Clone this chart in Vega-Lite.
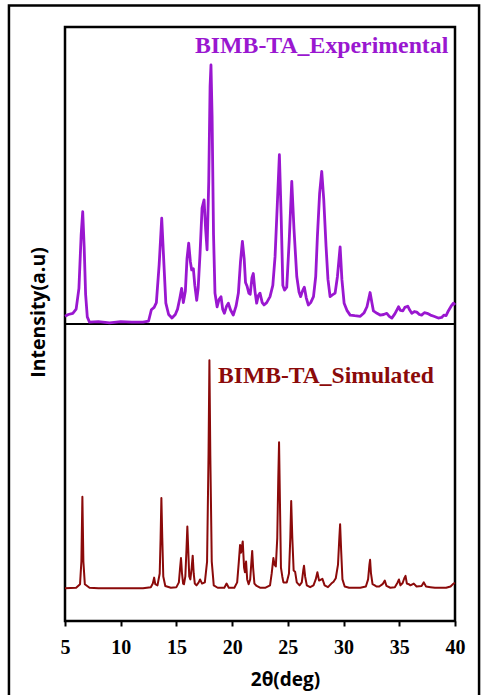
{
  "$schema": "https://vega.github.io/schema/vega-lite/v6.json",
  "width": 390,
  "height": 594,
  "autosize": {"type": "none"},
  "padding": {"left": 65, "top": 27, "right": 30, "bottom": 74},
  "background": "white",
  "config": {
    "view": {"stroke": "black", "strokeWidth": 2.5},
    "axis": {"grid": false}
  },
  "datasets": {
    "experimental": [
      {"t": 5.0, "y": 51.3}, {"t": 5.3, "y": 51.6}, {"t": 5.7, "y": 51.8}, {"t": 6.0, "y": 52.5},
      {"t": 6.25, "y": 56}, {"t": 6.45, "y": 65}, {"t": 6.59, "y": 68.9}, {"t": 6.72, "y": 63},
      {"t": 6.85, "y": 55}, {"t": 7.0, "y": 51.2}, {"t": 7.2, "y": 50.3}, {"t": 8.0, "y": 50.4},
      {"t": 9.0, "y": 50.2}, {"t": 10.0, "y": 50.4}, {"t": 11.0, "y": 50.3}, {"t": 12.0, "y": 50.3},
      {"t": 12.5, "y": 50.5}, {"t": 12.75, "y": 52.4}, {"t": 13.0, "y": 52.8}, {"t": 13.2, "y": 53.6},
      {"t": 13.45, "y": 60}, {"t": 13.68, "y": 67.8}, {"t": 13.88, "y": 60}, {"t": 14.05, "y": 53.5},
      {"t": 14.3, "y": 51.6}, {"t": 14.6, "y": 51.0}, {"t": 14.9, "y": 51.6}, {"t": 15.1, "y": 52.5},
      {"t": 15.3, "y": 54.3}, {"t": 15.47, "y": 56.0}, {"t": 15.62, "y": 53.6}, {"t": 15.8, "y": 55.5},
      {"t": 15.95, "y": 61}, {"t": 16.1, "y": 63.6}, {"t": 16.25, "y": 60.5}, {"t": 16.37, "y": 59.1},
      {"t": 16.52, "y": 59.3}, {"t": 16.65, "y": 56.5}, {"t": 16.82, "y": 54.0}, {"t": 16.95, "y": 56},
      {"t": 17.12, "y": 61.9}, {"t": 17.3, "y": 69.5}, {"t": 17.48, "y": 70.9}, {"t": 17.62, "y": 66},
      {"t": 17.75, "y": 62.5}, {"t": 17.9, "y": 74}, {"t": 18.02, "y": 90}, {"t": 18.1, "y": 93.6},
      {"t": 18.2, "y": 85}, {"t": 18.33, "y": 65}, {"t": 18.46, "y": 55.2}, {"t": 18.65, "y": 52.9},
      {"t": 18.82, "y": 54.1}, {"t": 19.0, "y": 54.6}, {"t": 19.15, "y": 52.5}, {"t": 19.3, "y": 51.8},
      {"t": 19.5, "y": 53}, {"t": 19.66, "y": 53.5}, {"t": 19.85, "y": 52.4}, {"t": 20.1, "y": 51.5},
      {"t": 20.35, "y": 53}, {"t": 20.56, "y": 55.2}, {"t": 20.75, "y": 60.5}, {"t": 20.92, "y": 63.9},
      {"t": 21.08, "y": 61}, {"t": 21.2, "y": 57}, {"t": 21.35, "y": 56.3}, {"t": 21.5, "y": 55.2},
      {"t": 21.62, "y": 55.0}, {"t": 21.78, "y": 57.8}, {"t": 21.9, "y": 58.5}, {"t": 22.05, "y": 55.5},
      {"t": 22.2, "y": 53.5}, {"t": 22.35, "y": 54.8}, {"t": 22.5, "y": 55.2}, {"t": 22.7, "y": 53.6},
      {"t": 22.86, "y": 53.2}, {"t": 23.1, "y": 53.6}, {"t": 23.4, "y": 54.6}, {"t": 23.65, "y": 56.5},
      {"t": 23.85, "y": 61.3}, {"t": 24.05, "y": 70}, {"t": 24.24, "y": 78.5}, {"t": 24.4, "y": 68},
      {"t": 24.55, "y": 56.5}, {"t": 24.7, "y": 55.7}, {"t": 24.9, "y": 56.2}, {"t": 25.12, "y": 64},
      {"t": 25.35, "y": 74.0}, {"t": 25.55, "y": 66}, {"t": 25.8, "y": 58.0}, {"t": 26.0, "y": 55.4},
      {"t": 26.15, "y": 54.6}, {"t": 26.3, "y": 55.5}, {"t": 26.48, "y": 56.2}, {"t": 26.65, "y": 54.4},
      {"t": 26.84, "y": 53.2}, {"t": 27.05, "y": 53.6}, {"t": 27.3, "y": 54.6}, {"t": 27.5, "y": 58},
      {"t": 27.65, "y": 64.7}, {"t": 27.85, "y": 72}, {"t": 28.04, "y": 75.7}, {"t": 28.22, "y": 71},
      {"t": 28.43, "y": 63.0}, {"t": 28.6, "y": 57.5}, {"t": 28.79, "y": 54.6}, {"t": 29.0, "y": 54.9},
      {"t": 29.24, "y": 55.2}, {"t": 29.45, "y": 58}, {"t": 29.69, "y": 63.0}, {"t": 29.85, "y": 57.5},
      {"t": 30.05, "y": 53.5}, {"t": 30.3, "y": 52.3}, {"t": 30.59, "y": 51.5}, {"t": 31.0, "y": 51.4},
      {"t": 31.5, "y": 51.3}, {"t": 31.85, "y": 51.9}, {"t": 32.1, "y": 52.9}, {"t": 32.38, "y": 55.3},
      {"t": 32.55, "y": 53.5}, {"t": 32.68, "y": 52.2}, {"t": 33.0, "y": 51.8}, {"t": 33.28, "y": 51.5},
      {"t": 33.6, "y": 51.6}, {"t": 33.88, "y": 51.8}, {"t": 34.1, "y": 51.3}, {"t": 34.33, "y": 51.0},
      {"t": 34.6, "y": 51.7}, {"t": 34.93, "y": 52.9}, {"t": 35.1, "y": 52.3}, {"t": 35.32, "y": 52.2},
      {"t": 35.5, "y": 52.8}, {"t": 35.76, "y": 53.0}, {"t": 35.95, "y": 52.3}, {"t": 36.12, "y": 51.8},
      {"t": 36.35, "y": 52.1}, {"t": 36.57, "y": 52.0}, {"t": 36.8, "y": 51.6}, {"t": 37.0, "y": 51.5},
      {"t": 37.25, "y": 51.9}, {"t": 37.5, "y": 51.8}, {"t": 37.8, "y": 51.5}, {"t": 38.1, "y": 51.3},
      {"t": 38.5, "y": 51.0}, {"t": 38.8, "y": 51.1}, {"t": 39.0, "y": 51.5}, {"t": 39.2, "y": 51.4},
      {"t": 39.4, "y": 52.2}, {"t": 39.65, "y": 53.0}, {"t": 39.86, "y": 53.5}, {"t": 40.0, "y": 53.2}
    ],
    "simulated": [
      {"t": 5.0, "y": 5.5}, {"t": 6.0, "y": 5.6}, {"t": 6.35, "y": 6.2}, {"t": 6.47, "y": 10},
      {"t": 6.56, "y": 20.9}, {"t": 6.65, "y": 10}, {"t": 6.78, "y": 6.2}, {"t": 7.2, "y": 5.6},
      {"t": 8.0, "y": 5.5}, {"t": 10.0, "y": 5.5}, {"t": 12.0, "y": 5.5}, {"t": 12.7, "y": 5.7},
      {"t": 12.88, "y": 6.3}, {"t": 13.0, "y": 7.3}, {"t": 13.1, "y": 6.2}, {"t": 13.3, "y": 6.0},
      {"t": 13.5, "y": 8}, {"t": 13.58, "y": 14}, {"t": 13.65, "y": 20.7}, {"t": 13.73, "y": 14},
      {"t": 13.82, "y": 7.5}, {"t": 14.0, "y": 5.9}, {"t": 14.5, "y": 5.6}, {"t": 15.0, "y": 5.7},
      {"t": 15.22, "y": 6.5}, {"t": 15.33, "y": 9}, {"t": 15.41, "y": 10.6}, {"t": 15.5, "y": 8},
      {"t": 15.6, "y": 6.3}, {"t": 15.68, "y": 6.2}, {"t": 15.8, "y": 7.5}, {"t": 15.9, "y": 12},
      {"t": 15.98, "y": 15.9}, {"t": 16.06, "y": 12}, {"t": 16.15, "y": 7.5}, {"t": 16.25, "y": 7.0},
      {"t": 16.37, "y": 9}, {"t": 16.46, "y": 11.0}, {"t": 16.55, "y": 8}, {"t": 16.65, "y": 6.3},
      {"t": 16.8, "y": 6.0}, {"t": 17.0, "y": 6.5}, {"t": 17.12, "y": 7.0}, {"t": 17.3, "y": 6.3},
      {"t": 17.55, "y": 6.5}, {"t": 17.75, "y": 10}, {"t": 17.88, "y": 28}, {"t": 17.96, "y": 43.9},
      {"t": 18.04, "y": 28}, {"t": 18.17, "y": 10}, {"t": 18.35, "y": 6.0}, {"t": 18.7, "y": 5.6},
      {"t": 19.3, "y": 5.6}, {"t": 19.5, "y": 6.3}, {"t": 19.7, "y": 5.6}, {"t": 20.2, "y": 5.6},
      {"t": 20.45, "y": 6.5}, {"t": 20.6, "y": 10}, {"t": 20.71, "y": 12.8}, {"t": 20.8, "y": 11.5},
      {"t": 20.95, "y": 13.4}, {"t": 21.07, "y": 9}, {"t": 21.15, "y": 8.2}, {"t": 21.25, "y": 10.0},
      {"t": 21.35, "y": 7}, {"t": 21.48, "y": 6.2}, {"t": 21.62, "y": 7}, {"t": 21.73, "y": 10},
      {"t": 21.8, "y": 11.8}, {"t": 21.88, "y": 9}, {"t": 22.0, "y": 6.3}, {"t": 22.2, "y": 5.9},
      {"t": 22.5, "y": 5.6}, {"t": 23.0, "y": 5.6}, {"t": 23.4, "y": 6}, {"t": 23.55, "y": 8},
      {"t": 23.7, "y": 10.6}, {"t": 23.8, "y": 9.5}, {"t": 23.92, "y": 9.2}, {"t": 24.05, "y": 14},
      {"t": 24.14, "y": 24}, {"t": 24.21, "y": 30.1}, {"t": 24.29, "y": 20}, {"t": 24.38, "y": 9},
      {"t": 24.5, "y": 7.5}, {"t": 24.6, "y": 6.5}, {"t": 24.9, "y": 6.5}, {"t": 25.1, "y": 8},
      {"t": 25.22, "y": 14}, {"t": 25.3, "y": 20.2}, {"t": 25.4, "y": 14}, {"t": 25.52, "y": 8.5},
      {"t": 25.65, "y": 8.3}, {"t": 25.8, "y": 6.5}, {"t": 26.05, "y": 6.0}, {"t": 26.25, "y": 6.5},
      {"t": 26.38, "y": 8.5}, {"t": 26.45, "y": 9.3}, {"t": 26.55, "y": 7.5}, {"t": 26.7, "y": 6.0},
      {"t": 27.0, "y": 5.7}, {"t": 27.3, "y": 6}, {"t": 27.5, "y": 7}, {"t": 27.65, "y": 8.2},
      {"t": 27.8, "y": 6.8}, {"t": 28.1, "y": 7.1}, {"t": 28.3, "y": 6.0}, {"t": 28.6, "y": 5.7},
      {"t": 28.9, "y": 6.3}, {"t": 29.1, "y": 6.6}, {"t": 29.3, "y": 7.2}, {"t": 29.5, "y": 9.5},
      {"t": 29.62, "y": 14}, {"t": 29.69, "y": 16.3}, {"t": 29.78, "y": 12}, {"t": 29.9, "y": 7},
      {"t": 30.1, "y": 5.8}, {"t": 30.5, "y": 5.6}, {"t": 31.0, "y": 5.6}, {"t": 31.5, "y": 5.6},
      {"t": 32.0, "y": 5.8}, {"t": 32.2, "y": 7}, {"t": 32.32, "y": 9.5}, {"t": 32.38, "y": 10.3},
      {"t": 32.46, "y": 8}, {"t": 32.6, "y": 6.2}, {"t": 32.8, "y": 6.0}, {"t": 32.95, "y": 5.8},
      {"t": 33.2, "y": 5.8}, {"t": 33.5, "y": 6.2}, {"t": 33.7, "y": 6.8}, {"t": 33.85, "y": 5.9},
      {"t": 34.2, "y": 5.6}, {"t": 34.6, "y": 5.7}, {"t": 34.85, "y": 6.5}, {"t": 34.97, "y": 7.0},
      {"t": 35.1, "y": 6.0}, {"t": 35.3, "y": 6.4}, {"t": 35.45, "y": 7.2}, {"t": 35.56, "y": 7.6},
      {"t": 35.68, "y": 6.3}, {"t": 35.85, "y": 6.2}, {"t": 36.0, "y": 6.0}, {"t": 36.3, "y": 6.3},
      {"t": 36.55, "y": 5.8}, {"t": 37.0, "y": 5.9}, {"t": 37.2, "y": 6.5}, {"t": 37.4, "y": 5.8},
      {"t": 37.8, "y": 5.7}, {"t": 38.2, "y": 5.6}, {"t": 38.7, "y": 5.6}, {"t": 39.2, "y": 5.6},
      {"t": 39.6, "y": 5.8}, {"t": 39.86, "y": 6.3}, {"t": 40.0, "y": 6.4}
    ]
  },
  "layer": [
    {
      "data": {"values": [{"x": -0.03, "x2": 42.16, "y": 103.6, "y2": -14}]},
      "mark": {"type": "rect", "fill": null, "stroke": "black", "strokeWidth": 2.5, "clip": false},
      "encoding": {
        "x": {"field": "x", "type": "quantitative", "scale": {"domain": [5, 40], "nice": false, "zero": false}},
        "x2": {"field": "x2"},
        "y": {"field": "y", "type": "quantitative", "scale": {"domain": [0, 100], "nice": false, "zero": false}},
        "y2": {"field": "y2"}
      }
    },
    {
      "data": {"values": [{"y": 50}]},
      "mark": {"type": "rule", "stroke": "black", "strokeWidth": 2},
      "encoding": {"y": {"field": "y", "type": "quantitative"}}
    },
    {
      "data": {"name": "simulated"},
      "mark": {"type": "line", "stroke": "#8B0A0A", "strokeWidth": 2, "strokeJoin": "round"},
      "encoding": {
        "x": {"field": "t", "type": "quantitative"},
        "y": {"field": "y", "type": "quantitative"}
      }
    },
    {
      "data": {"name": "experimental"},
      "mark": {"type": "line", "stroke": "#9A17D0", "strokeWidth": 2.8, "strokeJoin": "round"},
      "encoding": {
        "x": {
          "field": "t", "type": "quantitative",
          "axis": {
            "values": [5, 10, 15, 20, 25, 30, 35, 40],
            "domain": false, "ticks": true, "tickSize": 5, "tickWidth": 2, "tickColor": "black",
            "labelFont": "Liberation Serif", "labelFontWeight": "bold", "labelFontSize": 20,
            "labelColor": "black", "labelPadding": 11, "labelFlush": false,
            "title": "2θ(deg)", "titleFont": "Open Sans", "titleFontWeight": "bold", "titleFontSize": 19,
            "titleColor": "black", "titleX": 220, "titleY": 58, "titleBaseline": "middle", "titleAlign": "center"
          }
        },
        "y": {
          "field": "y", "type": "quantitative",
          "axis": {
            "domain": false, "ticks": false, "labels": false,
            "title": "Intensity(a.u)", "titleFont": "Open Sans", "titleFontWeight": "bold", "titleFontSize": 19.5,
            "titleColor": "black", "titleX": -27, "titleY": 285, "titleBaseline": "middle", "titleAlign": "center", "titleAngle": -90
          }
        }
      }
    },
    {
      "data": {"values": [{"x": 39.4, "y": 95.6, "label": "BIMB-TA_Experimental"}]},
      "mark": {"type": "text", "align": "right", "baseline": "alphabetic", "font": "Liberation Serif", "fontWeight": "bold", "fontSize": 23.8, "fill": "#9A17D0"},
      "encoding": {
        "x": {"field": "x", "type": "quantitative"},
        "y": {"field": "y", "type": "quantitative"},
        "text": {"field": "label"}
      }
    },
    {
      "data": {"values": [{"x": 18.73, "y": 40.1, "label": "BIMB-TA_Simulated"}]},
      "mark": {"type": "text", "align": "left", "baseline": "alphabetic", "font": "Liberation Serif", "fontWeight": "bold", "fontSize": 23.6, "fill": "#8B0A0A"},
      "encoding": {
        "x": {"field": "x", "type": "quantitative"},
        "y": {"field": "y", "type": "quantitative"},
        "text": {"field": "label"}
      }
    }
  ]
}
